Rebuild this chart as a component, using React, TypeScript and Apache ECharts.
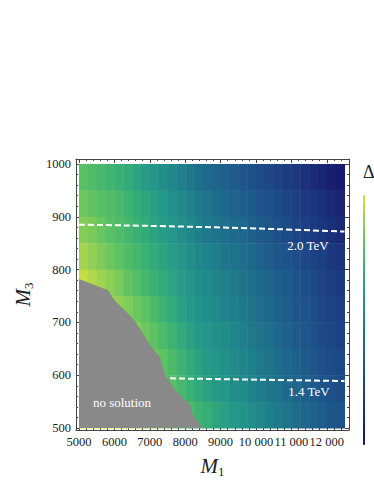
import React, { useEffect, useRef } from 'react';
import * as echarts from 'echarts';

const FONT = 'Liberation Serif';

// Heat-map cell centres
const m1Centers = [5125, 5375, 5625, 5875, 6125, 6375, 6625, 6875, 7125, 7375, 7625, 7875, 8125, 8375, 8625, 8875, 9125, 9375, 9625, 9875, 10125, 10375, 10625, 10875, 11125, 11375, 11625, 11875, 12125, 12375];
const m3Centers = [975, 925, 875, 825, 775, 725, 675, 625, 575, 525];

// Normalised Δ value per cell (rows follow m3Centers, columns follow m1Centers)
const deltaRows = [
  [0.79, 0.77, 0.75, 0.73, 0.71, 0.68, 0.65, 0.62, 0.59, 0.56, 0.53, 0.50, 0.47, 0.43, 0.40, 0.38, 0.36, 0.34, 0.32, 0.29, 0.27, 0.25, 0.23, 0.20, 0.18, 0.15, 0.12, 0.09, 0.06, 0.03],
  [0.83, 0.81, 0.79, 0.77, 0.75, 0.72, 0.69, 0.66, 0.63, 0.60, 0.57, 0.54, 0.51, 0.48, 0.45, 0.42, 0.40, 0.38, 0.36, 0.33, 0.31, 0.29, 0.27, 0.24, 0.22, 0.19, 0.17, 0.14, 0.11, 0.08],
  [0.87, 0.85, 0.82, 0.79, 0.77, 0.74, 0.71, 0.68, 0.65, 0.62, 0.59, 0.56, 0.53, 0.50, 0.47, 0.45, 0.43, 0.41, 0.39, 0.36, 0.34, 0.32, 0.29, 0.27, 0.24, 0.22, 0.19, 0.17, 0.14, 0.11],
  [0.92, 0.89, 0.86, 0.83, 0.80, 0.77, 0.74, 0.71, 0.68, 0.65, 0.62, 0.59, 0.56, 0.53, 0.51, 0.49, 0.46, 0.44, 0.42, 0.40, 0.37, 0.35, 0.32, 0.30, 0.28, 0.25, 0.23, 0.21, 0.18, 0.16],
  [0.97, 0.94, 0.91, 0.88, 0.85, 0.81, 0.78, 0.74, 0.71, 0.68, 0.65, 0.62, 0.59, 0.56, 0.54, 0.52, 0.50, 0.48, 0.45, 0.43, 0.40, 0.38, 0.35, 0.33, 0.30, 0.28, 0.26, 0.23, 0.21, 0.19],
  [0.99, 0.97, 0.95, 0.92, 0.89, 0.86, 0.83, 0.80, 0.76, 0.72, 0.68, 0.64, 0.61, 0.58, 0.56, 0.54, 0.52, 0.50, 0.47, 0.45, 0.42, 0.40, 0.37, 0.35, 0.32, 0.30, 0.28, 0.25, 0.23, 0.21],
  [1.00, 0.99, 0.97, 0.95, 0.92, 0.89, 0.86, 0.83, 0.80, 0.76, 0.72, 0.68, 0.64, 0.61, 0.59, 0.57, 0.55, 0.52, 0.50, 0.47, 0.45, 0.42, 0.39, 0.37, 0.34, 0.32, 0.29, 0.27, 0.25, 0.22],
  [1.00, 1.00, 0.99, 0.97, 0.95, 0.92, 0.89, 0.86, 0.83, 0.80, 0.76, 0.72, 0.68, 0.64, 0.61, 0.59, 0.57, 0.55, 0.52, 0.50, 0.47, 0.45, 0.42, 0.39, 0.37, 0.34, 0.32, 0.29, 0.27, 0.25],
  [1.00, 1.00, 1.00, 0.99, 0.97, 0.95, 0.92, 0.89, 0.86, 0.83, 0.79, 0.75, 0.71, 0.67, 0.64, 0.61, 0.59, 0.56, 0.54, 0.51, 0.49, 0.46, 0.44, 0.41, 0.38, 0.36, 0.34, 0.31, 0.29, 0.27],
  [1.00, 1.00, 1.00, 1.00, 0.99, 0.97, 0.95, 0.92, 0.89, 0.86, 0.83, 0.79, 0.76, 0.72, 0.70, 0.66, 0.63, 0.60, 0.58, 0.55, 0.53, 0.50, 0.48, 0.45, 0.42, 0.39, 0.37, 0.35, 0.32, 0.30],
];

// "no solution" region boundary (M1, M3)
const noSolutionEdge = [
  [5000, 782], [5820, 761], [6030, 740], [6530, 707], [6800, 680], [7006, 657],
  [7290, 634], [7430, 602], [7710, 572], [8140, 544], [8220, 525], [8500, 500],
];

// Dashed contours
const contour20 = [[5000, 885], [8870, 880], [12500, 872]];
const contour14 = [[7570, 594], [12500, 589]];

// Ticks
const xMajorTicks = [5000, 6000, 7000, 8000, 9000, 10000, 11000, 12000];
const yMajorTicks = [500, 600, 700, 800, 900, 1000];

const colorScale = ['#14126b', '#1a2874', '#1c3c82', '#1e528a', '#1e688c', '#1f808b', '#24988a', '#36ae76', '#5cc262', '#98d254', '#d6e23e'];

const xMinorTicks: number[] = [];
for (let v = 5000; v <= 12500; v += 200) if (v % 1000 !== 0) xMinorTicks.push(v);
const yMinorTicks: number[] = [];
for (let v = 500; v <= 1000; v += 20) if (v % 100 !== 0) yMinorTicks.push(v);

const fmtX = (v: number) => (v >= 10000 ? `${Math.floor(v / 1000)} ${String(v % 1000).padStart(3, '0')}` : String(v));
const fmtY = (v: number) => String(v);

export default function App() {
  const ref = useRef<HTMLDivElement>(null);
  useEffect(() => {
    if (!ref.current) return;
    const chart = echarts.init(ref.current, undefined, { renderer: 'svg' });
    const cellW = m1Centers[1] - m1Centers[0];
    const cellH = m3Centers[0] - m3Centers[1];
    const cells: number[][] = [];
    deltaRows.forEach((row, i) => row.forEach((v, j) => cells.push([m1Centers[j], m3Centers[i], v])));

    const tickColor = '#444';
    const nameRich = {
      m: { fontFamily: FONT, fontStyle: 'italic', fontSize: 21, color: '#222', lineHeight: 24 },
      s: { fontFamily: FONT, fontSize: 13, color: '#222', verticalAlign: 'bottom', lineHeight: 12 },
    };
    const mkX = (pos: 'top' | 'bottom', major: boolean, withLabel: boolean) => ({
      type: 'value', gridIndex: 0, position: pos, min: 4915, max: 12627,
      splitLine: { show: false },
      axisLine: { show: major, lineStyle: { color: tickColor, width: 1 } },
      axisTick: { show: true, inside: true, length: major ? 4 : 2, customValues: major ? xMajorTicks : xMinorTicks, lineStyle: { color: tickColor } },
      axisLabel: withLabel
        ? { show: true, customValues: xMajorTicks, formatter: fmtX, fontFamily: FONT, fontSize: 12.5, color: '#222', margin: 5, hideOverlap: false }
        : { show: false },
      ...(withLabel
        ? { name: '{m|M}{s|1}', nameLocation: 'middle', nameGap: 24, nameTextStyle: { rich: nameRich } }
        : {}),
    });
    const mkY = (pos: 'left' | 'right', major: boolean, withLabel: boolean) => ({
      type: 'value', gridIndex: 0, position: pos, min: 496.2, max: 1009.5,
      splitLine: { show: false },
      axisLine: { show: major, lineStyle: { color: tickColor, width: 1 } },
      axisTick: { show: true, inside: true, length: major ? 4 : 2, customValues: major ? yMajorTicks : yMinorTicks, lineStyle: { color: tickColor } },
      axisLabel: withLabel
        ? { show: true, customValues: yMajorTicks, formatter: fmtY, fontFamily: FONT, fontSize: 12.5, color: '#222', margin: 5 }
        : { show: false },
      ...(withLabel
        ? { name: '{m|M}{s|3}', nameLocation: 'middle', nameGap: 30, nameRotate: 90, nameTextStyle: { rich: nameRich } }
        : {}),
    });

    chart.setOption({
      animation: false,
      textStyle: { fontFamily: FONT },
      grid: { left: 76, right: 25, top: 159, bottom: 54, containLabel: false },
      xAxis: [mkX('bottom', true, true), mkX('bottom', false, false), mkX('top', true, false), mkX('top', false, false)],
      yAxis: [mkY('left', true, true), mkY('left', false, false), mkY('right', true, false), mkY('right', false, false)],
      visualMap: {
        type: 'continuous', min: 0, max: 1, dimension: 2, seriesIndex: 0,
        show: true, calculable: false, orient: 'vertical',
        left: 363, top: 195, itemWidth: 2, itemHeight: 250, padding: 0,
        inRange: { color: colorScale },
      },
      series: [
        {
          type: 'custom',
          xAxisIndex: 0, yAxisIndex: 0,
          encode: { x: 0, y: 1 },
          data: cells,
          clip: true,
          renderItem: (params: any, api: any) => {
            const x = api.value(0);
            const y = api.value(1);
            const a = api.coord([x - cellW / 2, y + cellH / 2]);
            const b = api.coord([x + cellW / 2, y - cellH / 2]);
            return {
              type: 'rect',
              shape: { x: a[0], y: a[1], width: b[0] - a[0] + 0.5, height: b[1] - a[1] + 0.5 },
              style: { fill: api.visual('color') },
            };
          },
        },
        {
          type: 'line', data: noSolutionEdge, symbol: 'none', z: 3,
          lineStyle: { width: 0 },
          areaStyle: { color: '#898989', opacity: 1, origin: 500 },
        },
        {
          type: 'line', data: contour20, symbol: 'none', z: 4, smooth: true,
          lineStyle: { color: '#ffffff', width: 2, type: [6, 3] },
        },
        {
          type: 'line', data: contour14, symbol: 'none', z: 4,
          lineStyle: { color: '#ffffff', width: 2, type: [6, 3] },
        },
      ],
      graphic: [
        { type: 'text', x: 122, y: 402, z: 10, style: { text: 'no solution', fill: '#ffffff', fontFamily: FONT, fontSize: 13, align: 'center', verticalAlign: 'middle' } },
        { type: 'text', x: 308, y: 245, z: 10, style: { text: '2.0 TeV', fill: '#ffffff', fontFamily: FONT, fontSize: 13, align: 'center', verticalAlign: 'middle' } },
        { type: 'text', x: 309, y: 391, z: 10, style: { text: '1.4 TeV', fill: '#ffffff', fontFamily: FONT, fontSize: 13, align: 'center', verticalAlign: 'middle' } },
        { type: 'text', x: 363, y: 163, z: 10, style: { text: 'Δ', fill: '#222', fontFamily: FONT, fontSize: 18, align: 'left', verticalAlign: 'top' } },
      ],
    });
    return () => chart.dispose();
  }, []);
  return <div ref={ref} style={{ position: 'absolute', left: 0, top: 0, width: 374, height: 484 }} />;
}
